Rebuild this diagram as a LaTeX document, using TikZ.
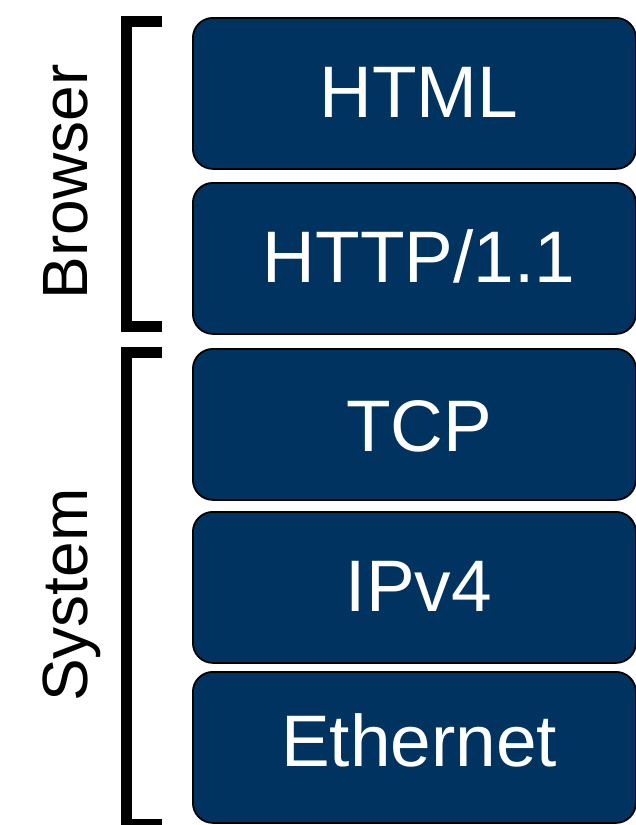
\documentclass[tikz,border=0pt]{standalone}
\usepackage{fontspec}
\setmainfont{Liberation Sans}
\definecolor{layerblue}{RGB}{0,51,96}
\begin{document}
\begin{tikzpicture}[x=1pt,y=-1pt,
  layer/.style={draw=black,line width=1.8pt,fill=layerblue,rounded corners=20pt,
    rectangle,minimum width=443pt,minimum height=151pt,inner sep=0pt,anchor=north west},
  layertext/.style={text=white,font=\fontsize{73}{83}\selectfont,anchor=base,inner sep=0pt},
  grouptext/.style={text=black,font=\fontsize{64}{74}\selectfont,anchor=base,rotate=90,inner sep=0pt},
  bracket/.style={draw=black,line width=11pt,line join=miter,line cap=butt}]
  \useasboundingbox (0,0) rectangle (636,825);

  % protocol layers
  \node[layer] (html) at (192,17) {};
  \node[layer] (http) at (192,182) {};
  \node[layer] (tcp)  at (192,348) {};
  \node[layer] (ip)   at (192,511) {};
  \node[layer] (eth)  at (192,671) {};

  \node[layertext] (htmlt) at (419,117) {HTML};
  \node[layertext] (httpt) at (419,282) {HTTP/1.1};
  \node[layertext] (tcpt)  at (419,451) {TCP};
  \node[layertext] (ipt)   at (419,611) {IPv4};
  \node[layertext] (etht)  at (419,766) {Ethernet};

  % grouping brackets
  \draw[bracket] (162,21.5) -- (126.5,21.5) -- (126.5,326) -- (162,326);
  \draw[bracket] (162,352.5) -- (126.5,352.5) -- (126.5,824) -- (162,824);

  \node[grouptext] (browser) at (87,182) {Browser};
  \node[grouptext] (system)  at (87,595) {System};
\end{tikzpicture}
\end{document}
